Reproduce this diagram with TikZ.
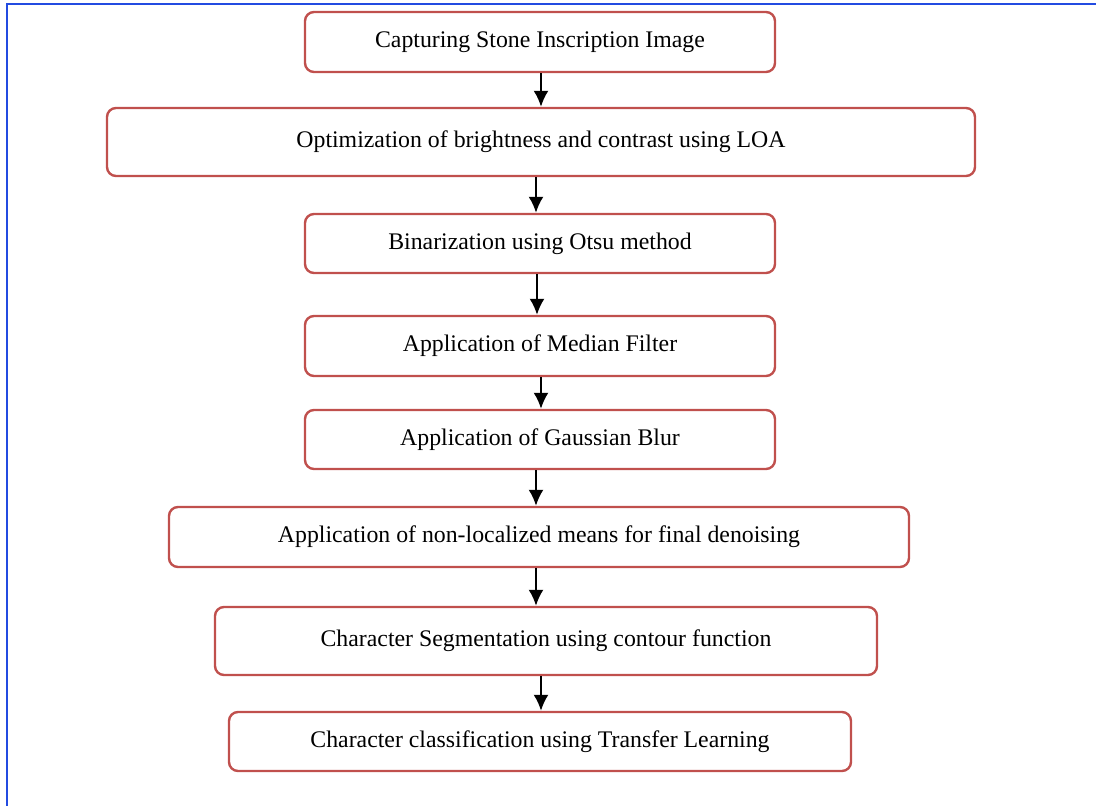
\documentclass[tikz,border=0pt]{standalone}
\usepackage{fontspec}
\setmainfont{Liberation Serif}
\usetikzlibrary{arrows.meta}
\definecolor{boxred}{RGB}{192,80,77}
\definecolor{frameblue}{RGB}{35,75,225}
\tikzset{
  stepbox/.style={draw=boxred, line width=2.4pt, rounded corners=9pt,
    align=center, inner sep=0pt, font=\fontsize{23.8}{28}\selectfont},
  arr/.style={line width=2.2pt, -{Latex[length=16pt,width=15pt]}}
}
\begin{document}
\begin{tikzpicture}[x=1pt,y=-1pt]
\useasboundingbox (0,0) rectangle (1096,806);
\draw[frameblue, line width=2pt] (7,806)--(7,4)--(1096,4);

\node[stepbox, minimum width=470, minimum height=60] (capture) at (540,42) {Capturing Stone Inscription Image};
\node[stepbox, minimum width=868, minimum height=68] (optim) at (541,142) {Optimization of brightness and contrast using LOA};
\node[stepbox, minimum width=470, minimum height=59] (binar) at (540,243.5) {Binarization using Otsu method};
\node[stepbox, minimum width=470, minimum height=60] (median) at (540,346) {Application of Median Filter};
\node[stepbox, minimum width=470, minimum height=59] (gauss) at (540,439.5) {Application of Gaussian Blur};
\node[stepbox, minimum width=740, minimum height=60] (denoise) at (539,537) {Application of non-localized means for final denoising};
\node[stepbox, minimum width=662, minimum height=68] (segment) at (546,641) {Character Segmentation using contour function};
\node[stepbox, minimum width=622, minimum height=59] (classify) at (540,741.5) {Character classification using Transfer Learning};

\foreach \a/\b/\x in {capture/optim/541, optim/binar/536, binar/median/537, median/gauss/541,
                      gauss/denoise/536, denoise/segment/536, segment/classify/541}
{
    \draw[arr] (\a.south -| \x,0) -- (\b.north -| \x,0);
}

\end{tikzpicture}
\end{document}
